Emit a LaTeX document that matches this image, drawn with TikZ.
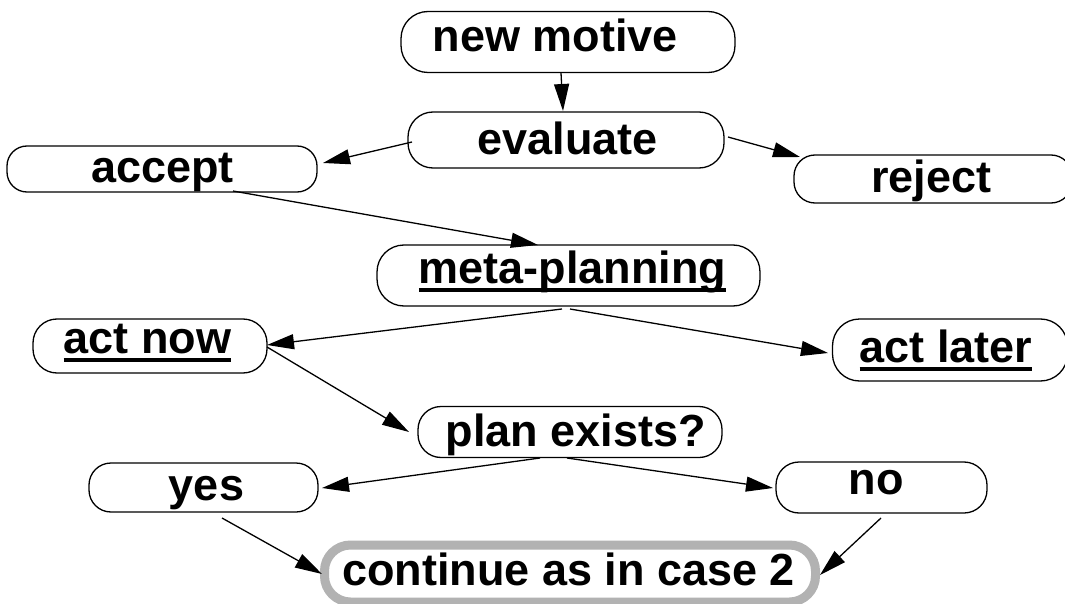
\documentclass[tikz,border=0pt]{standalone}
\usepackage{fontspec}
\setmainfont{Liberation Sans}
\usetikzlibrary{arrows.meta}

% underlined label text with a heavy rule
\newsavebox\ulsave
\newcommand\ultext[1]{\sbox\ulsave{#1}\rlap{\rule[-9pt]{\wd\ulsave}{4.5pt}}\usebox\ulsave}

\begin{document}
\begin{tikzpicture}[x=1pt,y=-1pt,
  box/.style={draw=black, line width=1.3pt, rounded corners=#1, inner sep=0pt},
  box/.default=22pt,
  mainbox/.style={draw=black!30, line width=9pt, rounded corners=26pt, inner sep=0pt},
  lbl/.style={anchor=base, inner sep=0pt, font=\fontsize{45}{54}\selectfont\bfseries},
  link/.style={line width=1.3pt, -{Triangle[length=27pt,width=15pt]}},
]
\fill[white] (0,0) rectangle (1065,604);
\useasboundingbox (0,0) rectangle (1065,604);
\clip (0,0) rectangle (1065,604);

% boxes
\node[box=27pt, minimum width=334pt, minimum height=61pt] (nm)   at (568,42)      {};
\node[box=25pt, minimum width=316pt, minimum height=56pt] (ev)   at (566,140)     {};
\node[box=20pt, minimum width=310pt, minimum height=46pt] (acc)  at (162,169)     {};
\node[box=21pt, minimum width=278pt, minimum height=48pt] (rej)  at (933,179)     {};
\node[box=27pt, minimum width=383pt, minimum height=61pt] (mp)   at (568.5,275.5) {};
\node[box=24pt, minimum width=234pt, minimum height=54pt] (an)   at (150,346)     {};
\node[box=27pt, minimum width=235pt, minimum height=62pt] (al)   at (950,350)     {};
\node[box=23pt, minimum width=304pt, minimum height=51pt] (pe)   at (570,432)     {};
\node[box=22pt, minimum width=229pt, minimum height=49pt] (yes)  at (203.5,487.5) {};
\node[box=23pt, minimum width=211pt, minimum height=51pt] (no)   at (881.5,487.5) {};
\node[mainbox, minimum width=491pt, minimum height=57pt]  (cont) at (570,573.5)   {};

% labels
\node[lbl] (nmt)   at (555.5,52)  {new motive};
\node[lbl] (evt)   at (567.5,155) {evaluate};
\node[lbl] (acct)  at (162.5,183) {accept};
\node[lbl] (rejt)  at (931.5,193) {reject};
\node[lbl] (mpt)   at (572.5,283) {\ultext{meta-planning}};
\node[lbl] (ant)   at (147.5,353) {\ultext{act now}};
\node[lbl] (alt)   at (946,362)   {\ultext{act later}};
\node[lbl] (pet)   at (576,446)   {plan exists?};
\node[lbl] (yest)  at (206.5,500) {yes};
\node[lbl] (not)   at (876,494)   {no};
\node[lbl] (contt) at (568.5,585) {continue as in case 2};

% connectors
\draw[link] ([shift={(-7,31)}]nm.center)    -- ([shift={(-3,-29)}]ev.center);
\draw[link] ([shift={(-154,2)}]ev.center)   -- ([shift={(161,-6)}]acc.center);
\draw[link] ([shift={(162,-3)}]ev.center)   -- ([shift={(-133,-22)}]rej.center);
\draw[link] ([shift={(71,22)}]acc.center)   -- ([shift={(-30.5,-30.5)}]mp.center);
\draw[link] ([shift={(-6.5,33.5)}]mp.center) -- ([shift={(117,-1)}]an.center);
\draw[link] ([shift={(1.5,33.5)}]mp.center)  -- ([shift={(-122,3)}]al.center);
\draw[link] ([shift={(117,1)}]an.center)    -- ([shift={(-161,0)}]pe.center);
\draw[link] ([shift={(-30,26)}]pe.center)   -- ([shift={(118.5,0.5)}]yes.center);
\draw[link] ([shift={(-3,26)}]pe.center)    -- ([shift={(-108.5,0.5)}]no.center);
\draw[link] ([shift={(18.5,30.5)}]yes.center) -- ([shift={(-248,0.5)}]cont.center);
\draw[link] ([shift={(-0.5,30.5)}]no.center)  -- ([shift={(250,1.5)}]cont.center);
\end{tikzpicture}
\end{document}
